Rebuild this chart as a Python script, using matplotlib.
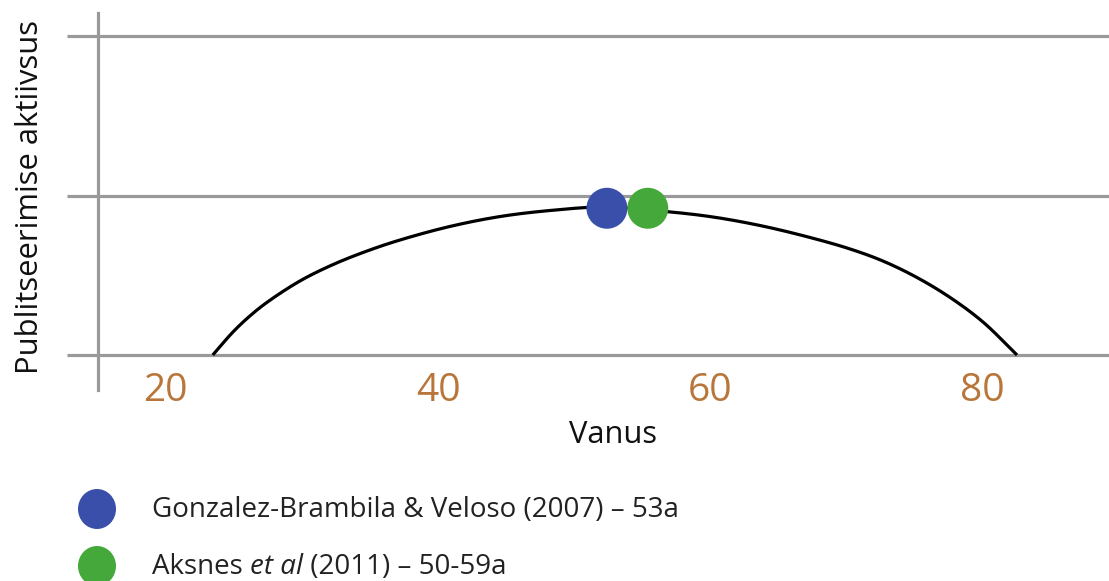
import matplotlib
matplotlib.use("Agg")
import matplotlib.pyplot as plt
import numpy as np
from matplotlib.patches import Ellipse

plt.rcParams['font.family'] = ['Open Sans', 'DejaVu Sans']

# ---- data ----
curve_age = [23.45, 24.93, 26.18, 27.43, 29.85, 32.28, 34.78, 37.20, 40.87, 44.54,
             48.22, 52.26, 56.30, 59.97, 63.64, 67.31, 70.25, 72.68, 75.17,
             77.60, 80.02, 82.52]
curve_act = [0.0, 0.144, 0.245, 0.330, 0.464, 0.567, 0.652, 0.721, 0.806, 0.868,
             0.906, 0.928, 0.903, 0.868, 0.812, 0.737, 0.665, 0.589, 0.486,
             0.361, 0.207, 0.0]
study_names = ["Gonzalez-Brambila & Veloso (2007) – 53a", "Aksnes et al (2011) – 50-59a"]
study_age = [52.4, 55.4]
study_act = [0.92, 0.92]
study_colors = ["#3A4FA9", "#44A83B"]
x_ticks = [20, 40, 60, 80]
y_levels = [0, 1, 2]
xlabel = "Vanus"
ylabel = "Publitseerimise aktiivsus"

# pixel mapping: px = 574.25 + (age-50)*13.615 ; py = 355 - y*159.5
sx, sy = 13.615, 159.5


def centripetal_cr(xs, ys, n=24, alpha=0.5):
    # smooth path through the read points (scaled to equal-aspect space)
    p = np.column_stack([np.asarray(xs) * sx, np.asarray(ys) * sy]).astype(float)
    p = np.vstack([2 * p[0] - p[1], p, 2 * p[-1] - p[-2]])
    out = []
    for i in range(1, len(p) - 2):
        P0, P1, P2, P3 = p[i - 1], p[i], p[i + 1], p[i + 2]
        t0 = 0.0
        t1 = t0 + np.linalg.norm(P1 - P0) ** alpha
        t2 = t1 + np.linalg.norm(P2 - P1) ** alpha
        t3 = t2 + np.linalg.norm(P3 - P2) ** alpha
        t = np.linspace(t1, t2, n, endpoint=False)[:, None]
        A1 = (t1 - t) / (t1 - t0) * P0 + (t - t0) / (t1 - t0) * P1
        A2 = (t2 - t) / (t2 - t1) * P1 + (t - t1) / (t2 - t1) * P2
        A3 = (t3 - t) / (t3 - t2) * P2 + (t - t2) / (t3 - t2) * P3
        B1 = (t2 - t) / (t2 - t0) * A1 + (t - t0) / (t2 - t0) * A2
        B2 = (t3 - t) / (t3 - t1) * A2 + (t - t1) / (t3 - t1) * A3
        C = (t2 - t) / (t2 - t1) * B1 + (t - t1) / (t2 - t1) * B2
        out.append(C)
    out.append(p[-2][None, :])
    out = np.vstack(out)
    return out[:, 0] / sx, out[:, 1] / sy


W, H = 1109, 581
fig = plt.figure(figsize=(W / 100, H / 100), dpi=100)
ax = fig.add_axes([0, 0, 1, 1])

ax.set_xlim(50 - 574.25 / sx, 50 + (W - 574.25) / sx)
ax.set_ylim(-(H - 355) / sy, 355 / sy)

grid_gray = "#999999"
ax.hlines(y_levels, 50 - (574.25 - 67) / sx, ax.get_xlim()[1], color=grid_gray, lw=2.3, zorder=1)

for s in ['top', 'right', 'bottom']:
    ax.spines[s].set_visible(False)
ax.spines['left'].set_position(('data', 50 - (574.25 - 98) / sx))
ax.spines['left'].set_bounds((355 - 390) / sy, (355 - 13) / sy)
ax.spines['left'].set_color(grid_gray)
ax.spines['left'].set_linewidth(2.3)
ax.set_yticks([])

ax.spines['bottom'].set_position(('data', 0))
ax.set_xticks(x_ticks)
ax.set_xticklabels([str(t) for t in x_ticks])
ax.tick_params(axis='x', length=0, pad=12, labelsize=28, labelcolor="#B8763A")

cx, cy = centripetal_cr(curve_age, curve_act)
ax.plot(cx, cy, color="black", lw=2.3, zorder=3, solid_capstyle='butt')
ax.scatter(study_age, study_act, s=29.5 ** 2, c=study_colors, zorder=4, linewidths=0)

# overlay in pixel coordinates for labels / legend
ov = fig.add_axes([0, 0, 1, 1], zorder=5)
ov.set_xlim(0, W)
ov.set_ylim(H, 0)
ov.axis('off')
ov.patch.set_alpha(0)

renderer = fig.canvas.get_renderer()


def fit(t, target_w, horizontal=True):
    for _ in range(3):
        bb = t.get_window_extent(renderer=renderer)
        w = bb.width if horizontal else bb.height
        t.set_fontsize(t.get_fontsize() * target_w / w)


tx = ov.text(613, 435, xlabel, ha='center', va='center', fontsize=20, color="#111111")
fit(tx, 88)
ty = ov.text(30, 197, ylabel, ha='center', va='center', rotation=90, fontsize=20, color="#111111")
fit(ty, 355, horizontal=False)

legend_y = [509, 566]
for yy, c in zip(legend_y, study_colors):
    ov.add_patch(Ellipse((97, yy), 38, 40, color=c, lw=0))

t1 = ov.text(152, legend_y[0] + 1, study_names[0], ha='left', va='center', fontsize=17, color="#222222")
fit(t1, 525)
fs = t1.get_fontsize()

parts = [("Aksnes ", 'normal'), ("et al", 'italic'), (" (2011) – 50-59a", 'normal')]
x = 152
for txt, style in parts:
    t = ov.text(x, legend_y[1] + 1, txt, ha='left', va='center', fontsize=fs, style=style, color="#222222")
    bb = t.get_window_extent(renderer=renderer)
    x += bb.width

fig.savefig("out.png", dpi=100)
